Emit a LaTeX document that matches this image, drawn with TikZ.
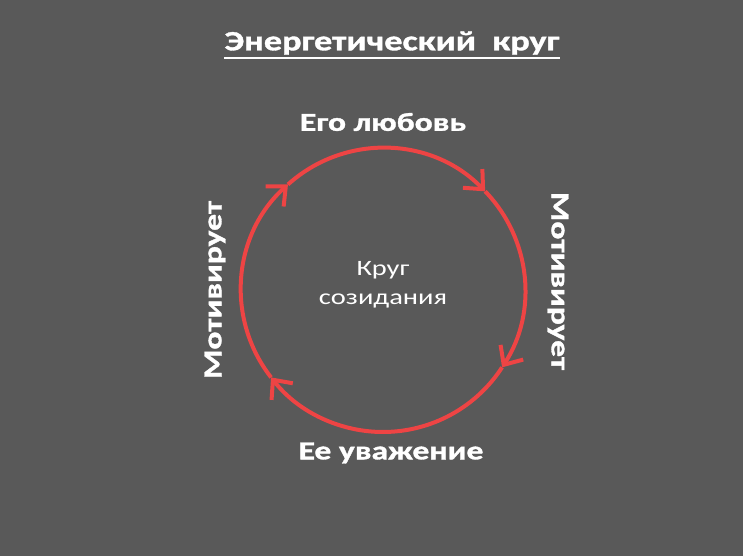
\documentclass[tikz,border=0pt]{standalone}
\usepackage{fontspec}
\setmainfont{Carlito}
\newfontfamily\wideface[FakeStretch=1.3,BoldFeatures={FakeBold=1.3}]{Carlito}
\usetikzlibrary{arrows.meta}
\usetikzlibrary{positioning}
\definecolor{bgGrey}{RGB}{89,89,89}
\definecolor{ringRed}{RGB}{238,68,68}

\begin{document}
\begin{tikzpicture}[x=1bp,y=1bp]
			\tikzset{lbl/.style = {text=white, font=\wideface\bfseries\fontsize{26}{30}\selectfont, inner sep=0pt}}
			\tikzset{arcedge/.style = {->,> = {Straight Barb[length=15bp,width=27bp,line width=4bp]}, line width=4bp, ringRed}}

		% background
		\fill[bgGrey] (0,0) rectangle (743,556);
		\useasboundingbox (0,0) rectangle (743,556);

		% nodes
		\coordinate (c) at (383,266);
		\node[lbl, font=\wideface\bfseries\fontsize{28}{32}\selectfont] (title) at (392,513) {Энергетический\ \ круг};
		\draw[white, line width=2.5bp] ([yshift=-3bp]title.south west) -- ([yshift=-3bp]title.south east);
		\node[lbl] (love) at (383,434) {Его любовь};
		\node[lbl] (respect) at (391,103) {Ее уважение};
		\node[lbl, rotate=90] (motl) at (215,266) {Мотивирует};
		\node[lbl, rotate=-90] (motr) at (558,275) {Мотивирует};
		\node[text=white, font=\wideface\fontsize{22}{29}\selectfont, align=center] (core) at (383,271) {Круг\\созидания};

		% circle
		\draw[arcedge] ([shift={(132:142bp)}]c) arc[start angle=132, end angle=44, radius=142bp];
		\draw[arcedge] ([shift={(44:142bp)}]c) arc[start angle=44, end angle=-33, radius=142bp];
		\draw[arcedge] ([shift={(-33:142bp)}]c) arc[start angle=-33, end angle=-142, radius=142bp];
		\draw[arcedge] ([shift={(-142:142bp)}]c) arc[start angle=-142, end angle=-228, radius=142bp];

\end{tikzpicture}
\end{document}
